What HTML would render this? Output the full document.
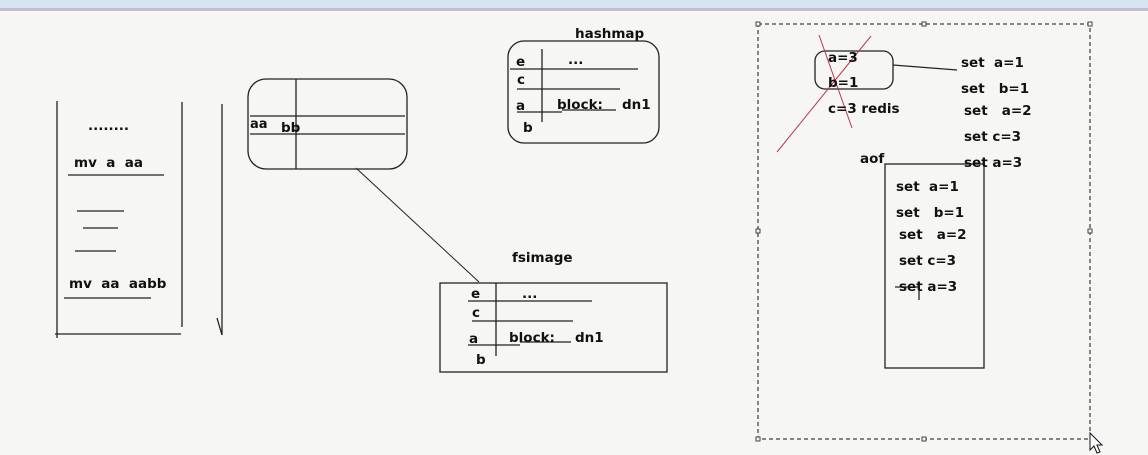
<!DOCTYPE html>
<html><head><meta charset="utf-8"><style>
html,body{margin:0;padding:0;background:#f6f6f4;}
svg{display:block}
text{font-family:"DejaVu Sans","Liberation Sans",sans-serif;font-weight:bold;font-size:13.5px;fill:#111;white-space:pre}
</style></head><body>
<svg width="1148" height="455" viewBox="0 0 1148 455" xmlns="http://www.w3.org/2000/svg" xml:space="preserve">
<rect x="0" y="0" width="1148" height="455" fill="#f6f6f4"/>
<rect x="0" y="0" width="1148" height="8" fill="#d6e5f1"/>
<rect x="0" y="8" width="1148" height="3" fill="#bfc2cc"/>
<g stroke="#222" stroke-width="1.3" fill="none">
<line x1="57" y1="101" x2="57" y2="338"/>
<line x1="55" y1="334" x2="181" y2="334"/>
<line x1="182" y1="102" x2="182" y2="327"/>
<line x1="222" y1="104" x2="222" y2="335"/>
<line x1="217" y1="318" x2="222" y2="335"/>
<line x1="68" y1="175" x2="164" y2="175"/>
<line x1="77" y1="211" x2="124" y2="211"/>
<line x1="83" y1="228" x2="118" y2="228"/>
<line x1="75" y1="251" x2="116" y2="251"/>
<line x1="64" y1="298" x2="151" y2="298"/>
<rect x="248" y="79" width="159" height="90" rx="18"/>
<line x1="296" y1="79" x2="296" y2="169"/>
<line x1="250" y1="116" x2="405" y2="116"/>
<line x1="250" y1="134" x2="405" y2="134"/>
<line x1="356" y1="168" x2="479" y2="282" stroke-width="1"/>
<rect x="508" y="41" width="151" height="102" rx="16"/>
<line x1="542" y1="49" x2="542" y2="122"/>
<line x1="510" y1="69" x2="638" y2="69"/>
<line x1="517" y1="89" x2="620" y2="89"/>
<line x1="517" y1="112" x2="562" y2="112"/>
<line x1="562" y1="110" x2="616" y2="110"/>
<rect x="440" y="283" width="227" height="89"/>
<line x1="496" y1="283" x2="496" y2="356"/>
<line x1="468" y1="301" x2="592" y2="301"/>
<line x1="472" y1="321" x2="573" y2="321"/>
<line x1="468" y1="345" x2="520" y2="345"/>
<line x1="520" y1="342" x2="571" y2="342"/>
<rect x="815" y="51" width="78" height="38" rx="10"/>
<line x1="893" y1="65" x2="957" y2="70"/>
<rect x="885" y="164" width="99" height="204"/>
<line x1="895" y1="287" x2="918" y2="287"/>
<line x1="919" y1="287" x2="919" y2="300"/>
</g>
<g stroke="#c0364a" stroke-width="1">
<line x1="819" y1="35" x2="852" y2="128"/>
<line x1="777" y1="152" x2="871" y2="36"/>
</g>
<rect x="758" y="24" width="332" height="415" fill="none" stroke="#111" stroke-width="1" stroke-dasharray="4,3"/>
<g fill="#f6f6f4" stroke="#444" stroke-width="1">
<rect x="756" y="22" width="4" height="4"/><rect x="922" y="22" width="4" height="4"/><rect x="1088" y="22" width="4" height="4"/>
<rect x="756" y="229" width="4" height="4"/><rect x="1088" y="229" width="4" height="4"/>
<rect x="756" y="437" width="4" height="4"/><rect x="922" y="437" width="4" height="4"/>
</g>
<path d="M1090 433 L1090 450 L1094 446 L1097 453 L1100 452 L1097 445 L1102 445 Z" fill="#fff" stroke="#111" stroke-width="1"/>
<text x="88" y="130">........</text>
<text x="74" y="167">mv  a  aa</text>
<text x="69" y="288">mv  aa  aabb</text>
<text x="250" y="128" style="font-size:13px">aa</text>
<text x="281" y="132">bb</text>
<text x="575" y="38">hashmap</text>
<text x="516" y="66">e</text>
<text x="568" y="64">...</text>
<text x="517" y="84">c</text>
<text x="516" y="110">a</text>
<text x="557" y="109">block:</text>
<text x="622" y="109">dn1</text>
<text x="523" y="132">b</text>
<text x="512" y="262">fsimage</text>
<text x="471" y="298">e</text>
<text x="522" y="298">...</text>
<text x="472" y="317">c</text>
<text x="469" y="343">a</text>
<text x="509" y="342">block:</text>
<text x="575" y="342">dn1</text>
<text x="476" y="364">b</text>
<text x="828" y="62">a=3</text>
<text x="828" y="87">b=1</text>
<text x="828" y="113">c=3 redis</text>
<text x="961" y="67">set  a=1</text>
<text x="961" y="93">set   b=1</text>
<text x="964" y="115">set   a=2</text>
<text x="964" y="141">set c=3</text>
<text x="964" y="167">set a=3</text>
<text x="860" y="163">aof</text>
<text x="896" y="191">set  a=1</text>
<text x="896" y="217">set   b=1</text>
<text x="899" y="239">set   a=2</text>
<text x="899" y="265">set c=3</text>
<text x="899" y="291">set a=3</text>
</svg>
</body></html>
